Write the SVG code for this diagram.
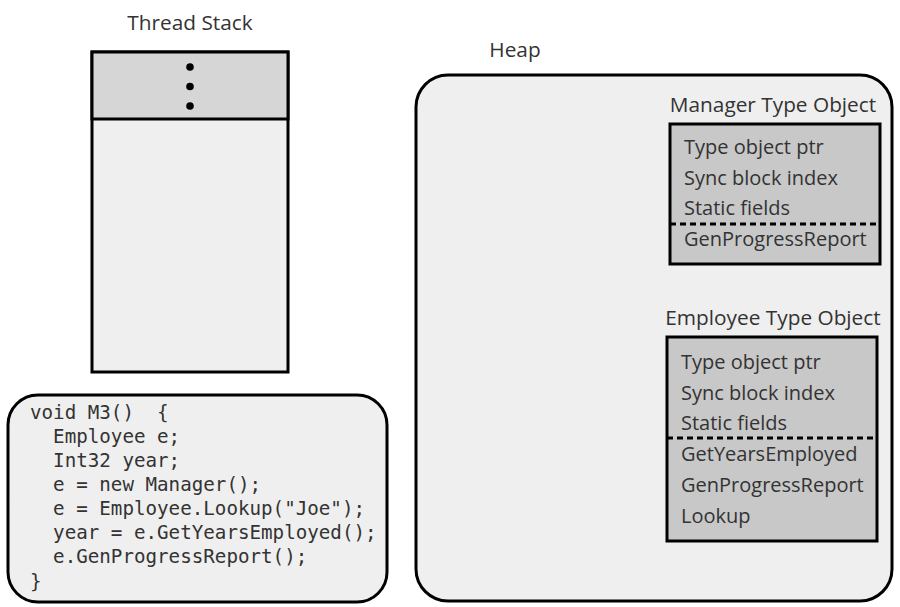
<svg xmlns="http://www.w3.org/2000/svg" width="900" height="607" viewBox="0 0 900 607">
  <style>
    .label { font-family: "Open Sans", "Noto Sans", sans-serif; font-size: 20.8px; fill: #333; }
    .field { font-family: "Open Sans", "Noto Sans", sans-serif; font-size: 20px; fill: #333; }
    .code  { font-family: "DejaVu Sans Mono", "Liberation Mono", monospace; font-size: 19.2px; fill: #333; white-space: pre; }
    .frame { stroke: #000; stroke-width: 3; }
    .sep   { stroke: #000; stroke-width: 3; stroke-dasharray: 6 4; fill: none; }
  </style>
  <rect width="900" height="607" fill="#fff"/>

  <!-- Thread stack -->
  <g id="thread-stack">
    <text class="label" x="190" y="30" text-anchor="middle">Thread Stack</text>
    <rect class="frame" x="92" y="52" width="196" height="320" fill="#efefef"/>
    <rect class="frame" x="92" y="52" width="196" height="67" fill="#d6d6d6"/>
    <circle cx="190" cy="67" r="3.8" fill="#000"/>
    <circle cx="190" cy="86.5" r="3.8" fill="#000"/>
    <circle cx="190" cy="106" r="3.8" fill="#000"/>
  </g>

  <!-- Method source -->
  <g id="method-m3">
    <rect class="frame" x="8" y="395" width="379" height="207" rx="30" ry="30" fill="#efefef"/>
    <text class="code" x="30" y="419">void M3()  {</text>
    <text class="code" x="30" y="443">  Employee e;</text>
    <text class="code" x="30" y="467">  Int32 year;</text>
    <text class="code" x="30" y="491">  e = new Manager();</text>
    <text class="code" x="30" y="515">  e = Employee.Lookup("Joe");</text>
    <text class="code" x="30" y="539">  year = e.GetYearsEmployed();</text>
    <text class="code" x="30" y="563">  e.GenProgressReport();</text>
    <text class="code" x="30" y="588">}</text>
  </g>

  <!-- Heap -->
  <g id="heap">
    <text class="label" x="515" y="57" text-anchor="middle">Heap</text>
    <rect class="frame" x="416" y="75" width="476" height="526" rx="32" ry="32" fill="#efefef"/>
  </g>

  <!-- Manager type object -->
  <g id="manager-type-object">
    <text class="label" x="773" y="112" text-anchor="middle">Manager Type Object</text>
    <rect class="frame" x="670" y="124" width="210" height="140" fill="#c8c8c8"/>
    <text class="field" x="684" y="154">Type object ptr</text>
    <text class="field" x="684" y="185">Sync block index</text>
    <text class="field" x="684" y="215">Static fields</text>
    <line class="sep" x1="670" y1="224" x2="880" y2="224"/>
    <text class="field" x="684" y="246">GenProgressReport</text>
  </g>

  <!-- Employee type object -->
  <g id="employee-type-object">
    <text class="label" x="773" y="325" text-anchor="middle">Employee Type Object</text>
    <rect class="frame" x="667" y="337" width="210" height="204" fill="#c8c8c8"/>
    <text class="field" x="681" y="369">Type object ptr</text>
    <text class="field" x="681" y="400">Sync block index</text>
    <text class="field" x="681" y="430">Static fields</text>
    <line class="sep" x1="667" y1="438" x2="877" y2="438"/>
    <text class="field" x="681" y="461">GetYearsEmployed</text>
    <text class="field" x="681" y="492">GenProgressReport</text>
    <text class="field" x="681" y="523">Lookup</text>
  </g>

  <g id="connectors"/>
</svg>
